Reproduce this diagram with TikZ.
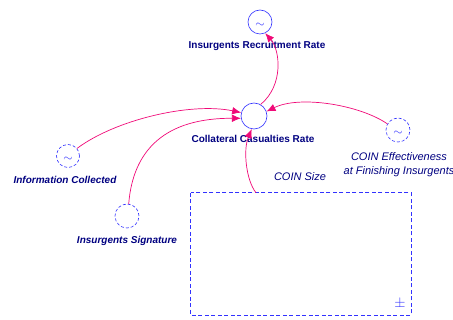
\documentclass[tikz,border=0pt]{standalone}
\usepackage{fontspec}
\setmainfont{Liberation Sans}
\usetikzlibrary{arrows.meta}
\definecolor{linkpink}{RGB}{240,10,120}
\definecolor{auxblue}{RGB}{50,50,255}
\definecolor{labnavy}{RGB}{0,0,128}

\begin{document}
\begin{tikzpicture}[x=1pt,y=-1pt]
\tikzstyle{aux} = [circle, draw=auxblue, line width=0.6pt, inner sep=0pt, minimum size=24pt]
\tikzstyle{ghost} = [aux, dash pattern=on 3pt off 2pt]
\tikzstyle{wave} = [label={[text=auxblue, font=\large, yshift=-3.5pt]center:$\sim$}]
\tikzstyle{blab} = [text=labnavy, font=\fontsize{10}{11}\selectfont\bfseries]
\tikzstyle{bilab} = [text=labnavy, font=\fontsize{10}{11}\selectfont\bfseries\itshape]
\tikzstyle{ilab} = [text=labnavy, font=\fontsize{11}{14}\selectfont\itshape, align=center]
\tikzstyle{link} = [draw=linkpink, line width=0.7pt, -{Latex[length=9pt,width=7.5pt]}]
\tikzstyle{module} = [rectangle, minimum width=220pt, minimum height=122pt]
\useasboundingbox (0,0) rectangle (453,320);
% variables
\node (rec) [aux, wave] at (260,22) {};
\node (cas) [aux, minimum size=26pt] at (254,116) {};
\node (info) [ghost, wave, minimum size=23pt] at (68,156) {};
\node (sig) [ghost] at (127,216) {};
\node (eff) [ghost, wave] at (398,130) {};
\node (sizebox) [module] at (301,254) {};
\draw [auxblue, line width=0.8pt, dash pattern=on 4pt off 2.5pt] (sizebox.north west) rectangle (sizebox.south east);
\node (pm) [text=auxblue, font=\Large] at (400,304) {$\pm$};
% labels
\node (recl) [blab] at (257,46) {Insurgents Recruitment Rate};
\node (casl) [blab] at (253,139) {Collateral Casualties Rate};
\node (infol) [bilab] at (65,180) {Information Collected};
\node (sigl) [bilab] at (127,241) {Insurgents Signature};
\node (effl) [ilab] at (399,165) {COIN Effectiveness\\at Finishing Insurgents};
\node (sizel) [ilab] at (300,177) {COIN Size};
% links
\draw[link] (cas.60) .. controls (284,85) and (280,50) .. (rec.295);
\draw[link] (info.40) .. controls (115,120) and (190,102) .. (cas.165);
\draw[link] (sig.82) .. controls (133,150) and (165,118) .. (cas.190);
\draw[link] (eff.150) .. controls (360,105) and (300,95) .. (cas.20);
\draw[link] ([xshift=-45pt]sizebox.north) .. controls (246,180) and (243,150) .. (cas.260);
\end{tikzpicture}
\end{document}
